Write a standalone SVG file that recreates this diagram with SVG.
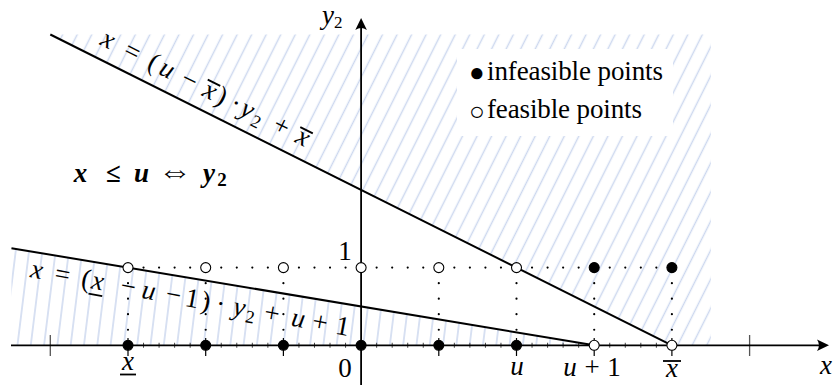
<svg xmlns="http://www.w3.org/2000/svg" width="835" height="385" viewBox="0 0 835 385">
<style>
.ax{stroke:#000;stroke-width:1.8;fill:none}
.ln{stroke:#000;stroke-width:2;fill:none}
.dt{stroke:#000;stroke-width:2.2;stroke-linecap:round;stroke-dasharray:0 15.54;fill:none}
.op{fill:#fff;stroke:#000;stroke-width:1.1}
.fp{fill:#000;stroke:#000;stroke-width:1.1}
.t{font-family:'Liberation Serif','DejaVu Serif',serif;font-size:27px;fill:#000}
.i{font-style:italic}
.c{text-anchor:middle}
.bar{stroke:#000;stroke-width:1.8;fill:none}
</style>
<defs>
<pattern id="hu" patternUnits="userSpaceOnUse" width="13" height="13" patternTransform="rotate(26.6)">
<line x1="6.5" y1="-2" x2="6.5" y2="15" stroke="#cdd8ef" stroke-width="1.5"/>
</pattern>
<pattern id="hl" patternUnits="userSpaceOnUse" width="13.2" height="13" patternTransform="rotate(7)">
<line x1="6.6" y1="-2" x2="6.6" y2="15" stroke="#cdd8ef" stroke-width="1.5"/>
</pattern>
</defs>
<g id="hatch">
<polygon points="50.3,34.5 710.8,34.5 710.8,345.3 671.9,345.3" fill="url(#hu)"/>
<polygon points="11.45,248.2 594.2,345.3 11.45,345.3" fill="url(#hl)"/>
<rect x="457" y="49" width="216" height="87" fill="#fff"/>
</g>
<g id="grid">
<line class="dt" x1="128" y1="267.6" x2="671.9" y2="267.6"/>
<path class="dt" d="M128,267.6V345.3M205.7,267.6V345.3M283.4,267.6V345.3M438.8,267.6V345.3M516.5,267.6V345.3M594.2,267.6V345.3M671.9,267.6V345.3"/>
<line x1="127.5" y1="345.3" x2="672.5" y2="345.3" stroke="#444" stroke-width="5" stroke-dasharray="1 14.54"/>
<path d="M128,338V356M205.7,338V356M283.4,338V356M438.8,338V356M516.5,338V356M594.2,338V356M671.9,338V356" stroke="#000" stroke-width="1.2"/>
<path d="M50.3,335V356M749.6,335V356" stroke="#555" stroke-width="1.3"/>
</g>
<g id="axes">
<line class="ax" x1="11" y1="345.3" x2="824" y2="345.3"/>
<path d="M829,345.3L817,339.5Q821,345.3 817,351.1Z" fill="#000"/>
<line class="ax" x1="361.1" y1="385" x2="361.1" y2="23"/>
<path d="M361.1,18L355.3,30Q361.1,26 366.9,30Z" fill="#000"/>
</g>
<g id="connectors">
<line class="ln" x1="50.3" y1="34.5" x2="671.9" y2="345.3"/>
<line class="ln" x1="11.45" y1="248.2" x2="594.2" y2="345.3"/>
</g>
<g id="points">
<circle class="op" cx="128" cy="267.6" r="5"/>
<circle class="op" cx="205.7" cy="267.6" r="5"/>
<circle class="op" cx="283.4" cy="267.6" r="5"/>
<circle class="op" cx="361.1" cy="267.6" r="5"/>
<circle class="op" cx="438.8" cy="267.6" r="5"/>
<circle class="op" cx="516.5" cy="267.6" r="5"/>
<circle class="fp" cx="594.2" cy="267.6" r="5"/>
<circle class="fp" cx="671.9" cy="267.6" r="5"/>
<circle class="fp" cx="128" cy="345.3" r="5"/>
<circle class="fp" cx="205.7" cy="345.3" r="5"/>
<circle class="fp" cx="283.4" cy="345.3" r="5"/>
<circle class="fp" cx="361.1" cy="345.3" r="5"/>
<circle class="fp" cx="438.8" cy="345.3" r="5"/>
<circle class="fp" cx="516.5" cy="345.3" r="5"/>
<circle class="op" cx="594.2" cy="345.3" r="5"/>
<circle class="op" cx="671.9" cy="345.3" r="5"/>
</g>
<g id="axis-labels">
<text class="t i" x="322" y="24" font-size="25">y<tspan font-size="17" font-style="normal" y="28">2</tspan></text>
<text class="t i c" x="826" y="374">x</text>
<text class="t c" x="345" y="260">1</text>
<text class="t c" x="345" y="377">0</text>
<text class="t i c" x="128" y="370">x</text>
<line class="bar" x1="120" y1="374.5" x2="136" y2="374.5"/>
<text class="t i c" x="517" y="375">u</text>
<text class="t c" x="593" y="376"><tspan class="i" x="570">u</tspan><tspan x="592">+</tspan><tspan x="614">1</tspan></text>
<text class="t i c" x="672" y="377">x</text>
<line class="bar" x1="663" y1="361" x2="681" y2="361"/>
</g>
<g id="upper-label" transform="translate(50.3,34.5) rotate(26.565)">
<text class="t c" y="-13"><tspan class="i" x="54">x</tspan><tspan x="81">=</tspan><tspan x="105">(</tspan><tspan class="i" x="120">u</tspan><tspan x="145">−</tspan><tspan class="i" x="168">x</tspan><tspan x="181">)</tspan><tspan x="197">·</tspan><tspan class="i" x="210">y</tspan><tspan x="223" y="-8" font-size="18">2</tspan><tspan x="248" y="-13">+</tspan><tspan class="i" x="272">x</tspan></text>
<line class="bar" x1="161" y1="-30" x2="175" y2="-30"/>
<line class="bar" x1="265" y1="-29" x2="279" y2="-29"/>
</g>
<g id="lower-label" transform="translate(11.45,248.2) rotate(10.52)">
<text class="t c" y="25"><tspan class="i" x="29">x</tspan><tspan x="55">=</tspan><tspan x="79">(</tspan><tspan class="i" x="91">x</tspan><tspan x="122">−</tspan><tspan class="i" x="143">u</tspan><tspan x="168">−</tspan><tspan x="187">1</tspan><tspan x="201">)</tspan><tspan x="216">·</tspan><tspan class="i" x="235">y</tspan><tspan x="247" y="30" font-size="18">2</tspan><tspan x="268" y="25">+</tspan><tspan class="i" x="295">u</tspan><tspan x="317">+</tspan><tspan x="340">1</tspan></text>
<line class="bar" x1="84" y1="30.5" x2="98" y2="30.5"/>
</g>
<g id="region-label">
<text class="t c" y="182" font-weight="bold" font-style="italic"><tspan x="80.5">x</tspan><tspan x="113.5" font-style="normal">≤</tspan><tspan x="141.5">u</tspan><tspan x="175" font-style="normal" font-size="34">⇔</tspan><tspan x="209">y</tspan><tspan x="222" y="186" font-size="19" font-style="normal">2</tspan></text>
</g>
<g id="legend">
<text class="t" y="80"><tspan x="469" y="81.4" font-size="26">●</tspan><tspan x="487" y="80" textLength="176">infeasible points</tspan></text>
<text class="t" y="118"><tspan x="469" y="120.4" font-size="26">○</tspan><tspan x="487" y="118" textLength="155">feasible points</tspan></text>
</g>
</svg>
